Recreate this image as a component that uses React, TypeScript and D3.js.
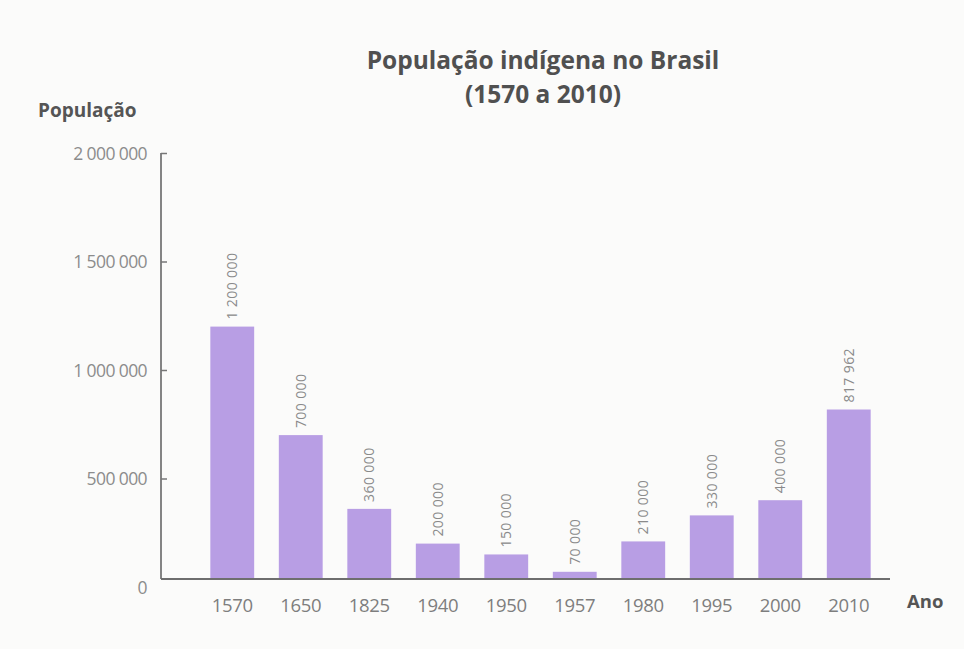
import React, {useEffect, useRef} from "react";
import * as d3 from "d3";

// data
const anos = ["1570", "1650", "1825", "1940", "1950", "1957", "1980", "1995", "2000", "2010"];
const populacao = [1200000, 700000, 360000, 200000, 150000, 70000, 210000, 330000, 400000, 817962];
const rotulos = ["1 200 000", "700 000", "360 000", "200 000", "150 000", "70 000", "210 000", "330 000", "400 000", "817 962"];
const yTicks = [0, 500000, 1000000, 1500000, 2000000];
const yTickLabels = ["0", "500 000", "1 000 000", "1 500 000", "2 000 000"];

const W = 964;
const H = 649;
const FONT = "'Open Sans', 'DejaVu Sans', sans-serif";

const App = () => {
    const ref = useRef<SVGSVGElement>(null);

    useEffect(() => {
        const svg = d3.select(ref.current);
        svg.selectAll("*").remove();

        const axisX = 161;
        const baseY = 579;

        const x = d3.scaleBand()
            .domain(anos)
            .range([198, 883])
            .paddingInner(0.36)
            .paddingOuter(0.18);

        const y = d3.scaleLinear()
            .domain([0, 2000000])
            .range([baseY + 8, 153]);

        svg.append("rect")
            .attr("width", W).attr("height", H)
            .attr("fill", "#fbfbfa");

        // title
        const title = svg.append("text")
            .attr("text-anchor", "middle")
            .attr("font-family", FONT)
            .attr("font-weight", "bold")
            .attr("font-size", 24.5)
            .attr("fill", "#505050");
        title.append("tspan").attr("x", 543).attr("y", 69).text("População indígena no Brasil");
        title.append("tspan").attr("x", 543).attr("y", 103).text("(1570 a 2010)");

        svg.append("text")
            .attr("x", 38).attr("y", 117)
            .attr("font-family", FONT)
            .attr("font-weight", "bold")
            .attr("font-size", 19)
            .attr("fill", "#555")
            .text("População");

        // bars
        svg.selectAll(".bar")
            .data(populacao)
            .join("rect")
            .attr("class", "bar")
            .attr("x", (d, i) => x(anos[i])!)
            .attr("y", d => y(d))
            .attr("width", x.bandwidth())
            .attr("height", d => baseY - y(d))
            .attr("fill", "#b89ee4");

        // value labels (rotated)
        svg.selectAll(".val")
            .data(populacao)
            .join("text")
            .attr("class", "val")
            .attr("transform", (d, i) => `translate(${x(anos[i])! + x.bandwidth() / 2 + 5},${y(d) - 7}) rotate(-90)`)
            .attr("font-family", FONT)
            .attr("font-size", 14)
            .attr("letter-spacing", 0.4)
            .attr("fill", "#8a8a8a")
            .text((d, i) => rotulos[i]);

        // y axis
        const yAxis = d3.axisLeft(y)
            .tickValues(yTicks)
            .tickSize(-6)
            .tickPadding(14)
            .tickFormat((d, i) => yTickLabels[i]);

        const gy = svg.append("g")
            .attr("transform", `translate(${axisX},0)`)
            .call(yAxis);
        gy.select(".domain").remove();
        gy.selectAll(".tick line").attr("stroke", "#777").attr("stroke-width", 1.5);
        gy.selectAll(".tick").filter(d => d === 0).select("line").remove();
        gy.selectAll(".tick text")
            .attr("font-family", FONT)
            .attr("font-size", 17.5)
            .attr("letter-spacing", -0.6)
            .attr("fill", "#8c8c8c")
            .attr("dy", "0.35em");
        gy.selectAll(".tick").filter(d => d === 0).attr("transform", `translate(0,${baseY + 9})`);

        svg.append("line")
            .attr("x1", axisX).attr("x2", axisX)
            .attr("y1", y(2000000)).attr("y2", baseY)
            .attr("stroke", "#777").attr("stroke-width", 1.8);

        // x axis
        svg.append("line")
            .attr("x1", axisX).attr("x2", 890)
            .attr("y1", baseY).attr("y2", baseY)
            .attr("stroke", "#6e6e6e").attr("stroke-width", 2);

        svg.selectAll(".ano")
            .data(anos)
            .join("text")
            .attr("class", "ano")
            .attr("x", d => x(d)! + x.bandwidth() / 2)
            .attr("y", 612)
            .attr("text-anchor", "middle")
            .attr("font-family", FONT)
            .attr("font-size", 18.5)
            .attr("letter-spacing", -0.3)
            .attr("fill", "#7e7e7e")
            .text(d => d);

        svg.append("text")
            .attr("x", 907).attr("y", 608)
            .attr("font-family", FONT)
            .attr("font-weight", "bold")
            .attr("font-size", 18.5)
            .attr("fill", "#555")
            .text("Ano");
    }, []);

    return (
        <svg ref={ref} width={W} height={H} style={{display: "block", position: "absolute", left: 0, top: 0}}></svg>
    );
};

export default App;
